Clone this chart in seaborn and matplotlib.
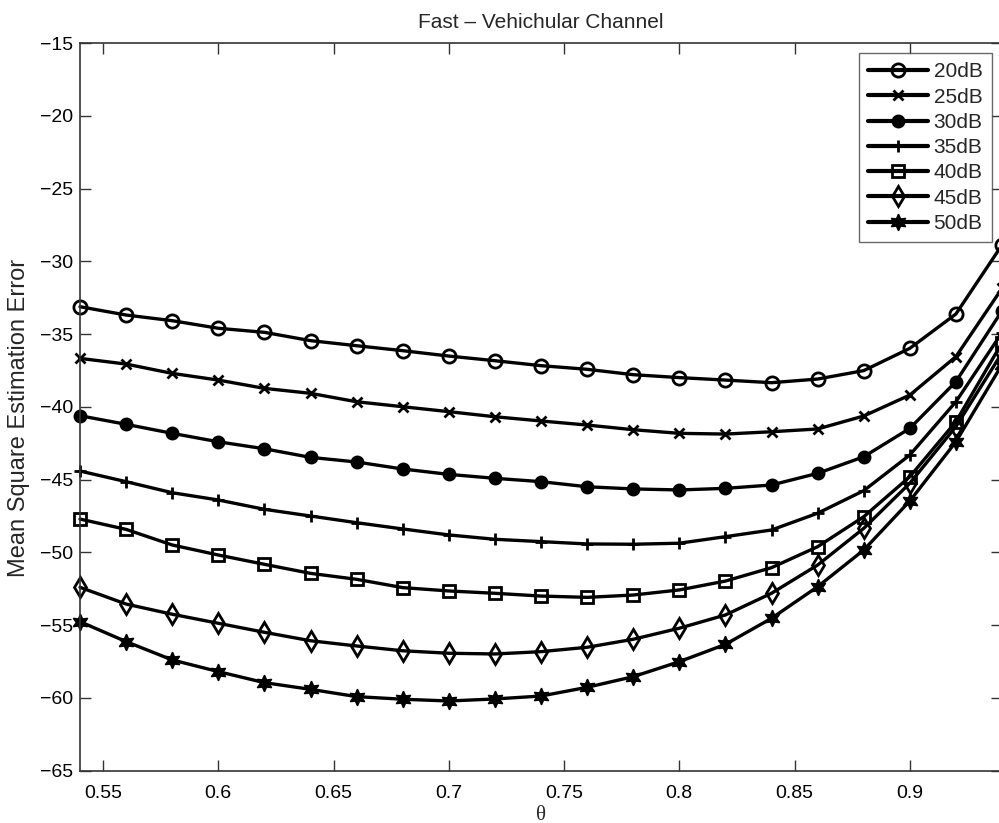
import numpy as np
import pandas as pd
import matplotlib
matplotlib.use("Agg")
import matplotlib.pyplot as plt
import seaborn as sns

theta = [0.54, 0.56, 0.58, 0.60, 0.62, 0.64, 0.66, 0.68, 0.70, 0.72, 0.74,
         0.76, 0.78, 0.80, 0.82, 0.84, 0.86, 0.88, 0.90, 0.92, 0.94]

snr_20 = [-33.12, -33.69, -34.08, -34.60, -34.88, -35.45, -35.80, -36.14, -36.51, -36.83, -37.17,
          -37.42, -37.79, -37.99, -38.16, -38.34, -38.09, -37.51, -35.98, -33.62, -28.88]
snr_25 = [-36.67, -37.06, -37.70, -38.16, -38.73, -39.07, -39.65, -39.99, -40.33, -40.68, -40.97,
          -41.25, -41.57, -41.82, -41.87, -41.71, -41.52, -40.63, -39.19, -36.55, -31.86]
snr_30 = [-40.61, -41.20, -41.82, -42.40, -42.88, -43.47, -43.79, -44.27, -44.64, -44.91, -45.14,
          -45.49, -45.64, -45.71, -45.60, -45.37, -44.57, -43.43, -41.48, -38.27, -33.40]
snr_35 = [-44.41, -45.14, -45.90, -46.40, -47.04, -47.50, -47.96, -48.39, -48.80, -49.10, -49.26,
          -49.42, -49.44, -49.37, -48.92, -48.46, -47.31, -45.76, -43.31, -39.65, -34.90]
snr_40 = [-47.71, -48.42, -49.49, -50.18, -50.82, -51.44, -51.85, -52.42, -52.65, -52.81, -53.00,
          -53.09, -52.93, -52.58, -51.97, -51.05, -49.61, -47.55, -44.80, -41.02, -35.60]
snr_45 = [-52.40, -53.55, -54.25, -54.87, -55.49, -56.07, -56.43, -56.76, -56.93, -56.98, -56.82,
          -56.52, -55.97, -55.21, -54.30, -52.81, -50.87, -48.35, -45.25, -41.36, -36.30]
snr_50 = [-54.76, -56.13, -57.39, -58.19, -58.95, -59.41, -59.91, -60.09, -60.21, -60.07, -59.87,
          -59.27, -58.54, -57.51, -56.32, -54.53, -52.36, -49.84, -46.47, -42.40, -37.10]

labels = ["20dB", "25dB", "30dB", "35dB", "40dB", "45dB", "50dB"]
series = [snr_20, snr_25, snr_30, snr_35, snr_40, snr_45, snr_50]

x_ticks = [0.55, 0.60, 0.65, 0.70, 0.75, 0.80, 0.85, 0.90]
x_tick_labels = ["0.55", "0.6", "0.65", "0.7", "0.75", "0.8", "0.85", "0.9"]
y_ticks = [-65, -60, -55, -50, -45, -40, -35, -30, -25, -20, -15]

sns.set_theme(style="ticks")
plt.rcParams["font.family"] = ["Liberation Sans", "DejaVu Sans"]
plt.rcParams["axes.unicode_minus"] = True

# marker styles: (marker, filled, size, edge width)
styles = [
    ("o", False, 9.5, 2.0),
    ("x", True, 6.5, 2.0),
    ("o", True, 8.5, 1.5),
    ("+", True, 9.0, 2.0),
    ("s", False, 8.5, 2.0),
    ("d", False, 10.0, 2.0),
    ((6, 1, 0), True, 12.0, 1.0),
]

fig = plt.figure(figsize=(9.99, 8.23), dpi=100)
ax = fig.add_axes([80 / 999, 1 - 770.7 / 823, 922 / 999, 727.7 / 823])

for lab, vals, (mk, filled, ms, mew) in zip(labels, series, styles):
    df = pd.DataFrame({"theta": theta, "mse": vals})
    sns.lineplot(data=df, x="theta", y="mse", ax=ax, color="black",
                 linewidth=2.4, marker=mk, markersize=ms, markeredgewidth=mew,
                 markeredgecolor="black",
                 markerfacecolor=("black" if filled else "none"),
                 label=lab, clip_on=False)

ax.set_xlim(0.54, 0.94)
ax.set_ylim(-65, -15)
ax.set_xticks(x_ticks, x_tick_labels)
ax.set_yticks(y_ticks)
ax.tick_params(direction="in", length=8, width=1.0, colors="#333333",
               labelcolor="black", labelsize=14, top=True, right=True)
ax.tick_params(axis="x", pad=10)
ax.tick_params(axis="y", pad=5)
for sp in ax.spines.values():
    sp.set_color("#333333")
    sp.set_linewidth(1.2)

ax.set_title("Fast \u2013 Vehichular Channel", fontsize=15, pad=11)
ax.set_ylabel("Mean Square Estimation Error", fontsize=17)
ax.yaxis.set_label_coords(30 / 999, 1 - 417.5 / 823, transform=fig.transFigure)
ax.set_xlabel("\u03b8", fontsize=15, family=["Liberation Serif", "DejaVu Serif"], labelpad=3)

leg = ax.legend(loc="upper right", bbox_to_anchor=(992 / 999, 1 - 53 / 823),
                bbox_transform=fig.transFigure, frameon=True, fancybox=False,
                fontsize=15, handlelength=2.9, handletextpad=0.25,
                labelspacing=0.3, borderpad=0.45, borderaxespad=0)
leg.get_frame().set_edgecolor("#444444")
leg.get_frame().set_linewidth(1.0)
for h in leg.get_lines():
    h.set_linewidth(3.0)

fig.savefig("out.png", dpi=100)
